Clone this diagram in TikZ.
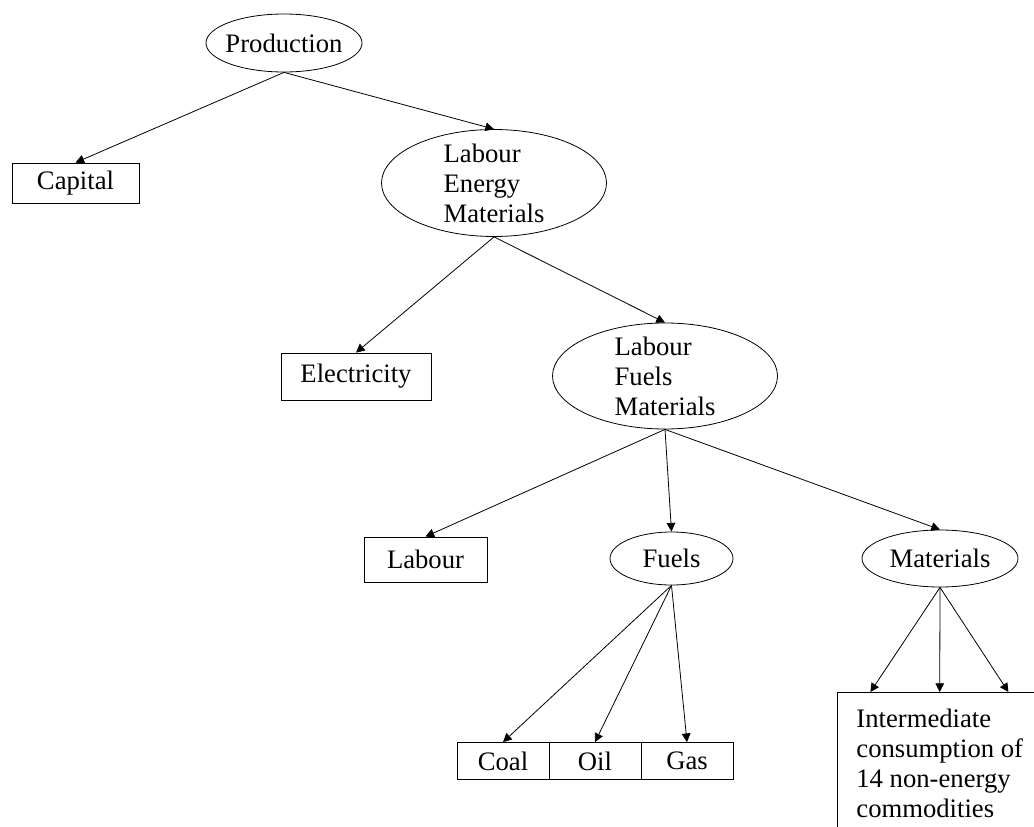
\documentclass[tikz,border=0pt]{standalone}
\usepackage{fontspec}
\setmainfont{Liberation Serif}
\usetikzlibrary{arrows.meta,shapes.geometric}
\tikzset{
  every node/.style={font=\fontsize{20}{22.5}\selectfont},
  oval/.style={ellipse, draw, line width=0.6pt, inner xsep=-6pt, inner ysep=-6pt},
  multioval/.style={oval, align=left},
  boxnode/.style={rectangle, draw, line width=0.6pt, inner sep=0pt},
  arr/.style={line width=0.6pt, -{Triangle[length=6.5pt,width=6.5pt]}, shorten >=0pt}
}
\begin{document}
\begin{tikzpicture}[x=0.75pt,y=-0.75pt]
\useasboundingbox (0,0) rectangle (1034,827);
\clip (0,0) rectangle (1034,827);

% nodes
\node[oval, minimum width=117pt, minimum height=43.5pt] (prod) at (284,43) {Production};
\node[boxnode, minimum width=95.25pt, minimum height=30pt] (cap) at (75.5,183) {Capital};
\node[multioval, minimum width=168.75pt, minimum height=80.25pt] (lem) at (494,183) {Labour\\Energy\\Materials};
\node[boxnode, minimum width=112.5pt, minimum height=35.25pt] (elec) at (356,376.5) {Electricity};
\node[multioval, minimum width=168.75pt, minimum height=79.5pt] (lfm) at (665,376) {Labour\\Fuels\\Materials};
\node[boxnode, minimum width=92.25pt, minimum height=33.75pt] (lab) at (425.5,559.5) {Labour};
\node[oval, minimum width=92.25pt, minimum height=39.75pt] (fuels) at (671.5,558.5) {Fuels};
\node[oval, minimum width=117pt, minimum height=42.75pt] (mat) at (940,558.5) {Materials};
\node[boxnode, minimum width=69pt, minimum height=27.75pt] (coal) at (503,761) {Coal};
\node[boxnode, minimum width=69pt, minimum height=27.75pt] (oil) at (595,761) {Oil};
\node[boxnode, minimum width=69pt, minimum height=27.75pt] (gas) at (687,761) {Gas};
\node[rectangle, draw, line width=0.6pt, anchor=north west, align=left,
      inner xsep=14.25pt, inner ysep=12.75pt] (inter) at (837,692)
  {Intermediate\\consumption of\\14 non-energy\\commodities};

\coordinate (t1) at ([xshift=-52pt]inter.north);
\coordinate (t3) at ([xshift=51.5pt]inter.north);

% connectors
\draw[arr] (prod.south) -- (cap.north);
\draw[arr] (prod.south) -- (lem.north);
\draw[arr] (lem.south) -- (elec.north);
\draw[arr] (lem.south) -- (lfm.north);
\draw[arr] (lfm.south) -- (lab.north);
\draw[arr] (lfm.south) -- (fuels.north);
\draw[arr] (lfm.south) -- (mat.north);
\draw[arr] (fuels.south) -- (coal.north);
\draw[arr] (fuels.south) -- (oil.north);
\draw[arr] (fuels.south) -- (gas.north);
\draw[arr] (mat.south) -- (t1);
\draw[arr] (mat.south) -- (inter.north);
\draw[arr] (mat.south) -- (t3);
\end{tikzpicture}
\end{document}
